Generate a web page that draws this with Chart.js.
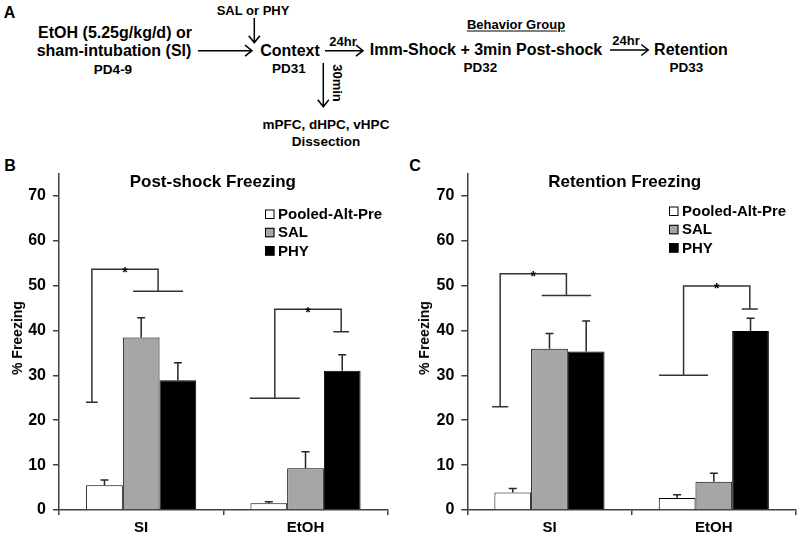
<!DOCTYPE html>
<html><head><meta charset="utf-8">
<script src="https://cdn.jsdelivr.net/npm/chart.js@4.4.1/dist/chart.umd.min.js"></script>
<style>
html,body{margin:0;padding:0;background:#fff;}
body{width:800px;height:539px;position:relative;overflow:hidden;font-family:"Liberation Sans",Arial,sans-serif;}
.t{position:absolute;transform:translate(-50%,-50%);white-space:nowrap;font-weight:bold;line-height:1;color:#000;}
.yt{transform:translate(-50%,-50%) rotate(-90deg);}
canvas{position:absolute;}
svg{position:absolute;left:0;top:0;}
</style></head><body>
<svg width="800" height="150" viewBox="0 0 800 150">
  <g stroke="#000" stroke-width="1.5" fill="none">
    <path d="M198 50.7 H252 M245 45.2 L252 50.7 L245 56.2"/>
    <path d="M254.3 18 V42.7 M248.8 35.7 L254.3 42.7 L259.8 35.7"/>
    <path d="M325 50.7 H363 M356 45.2 L363 50.7 L356 56.2"/>
    <path d="M323.3 63 V106.7 M317.8 99.7 L323.3 106.7 L328.8 99.7"/>
    <path d="M610 50 H648.3 M641.3 44.5 L648.3 50 L641.3 55.5"/>
  </g>
</svg>
<div class="t" style="left:9.5px;top:13.3px;font-size:16px">A</div>
<div class="t" style="left:253px;top:10px;font-size:13px">SAL or PHY</div>
<div class="t" style="left:115px;top:33.3px;font-size:16px">EtOH (5.25g/kg/d) or</div>
<div class="t" style="left:114px;top:51px;font-size:16px">sham-intubation (SI)</div>
<div class="t" style="left:113px;top:70px;font-size:13.5px">PD4-9</div>
<div class="t" style="left:290px;top:51px;font-size:16px">Context</div>
<div class="t" style="left:289px;top:69px;font-size:13.5px">PD31</div>
<div class="t" style="left:343px;top:41px;font-size:13px">24hr</div>
<div class="t" style="left:336.7px;top:83px;font-size:13px;transform:translate(-50%,-50%) rotate(90deg)">30min</div>
<div class="t" style="left:326px;top:125px;font-size:13.5px">mPFC, dHPC, vHPC</div>
<div class="t" style="left:326px;top:141.7px;font-size:13.5px">Dissection</div>
<div class="t" style="left:486px;top:50px;font-size:16px">Imm-Shock + 3min Post-shock</div>
<div class="t" style="left:516px;top:24px;font-size:13px;text-decoration:underline;text-underline-offset:2px">Behavior Group</div>
<div class="t" style="left:480.3px;top:68.3px;font-size:13.5px">PD32</div>
<div class="t" style="left:626px;top:39.5px;font-size:13px">24hr</div>
<div class="t" style="left:691px;top:50px;font-size:16px">Retention</div>
<div class="t" style="left:686.3px;top:68.3px;font-size:13.5px">PD33</div>

<div class="t" style="left:10px;top:166px;font-size:16px">B</div>
<div class="t" style="left:415px;top:166px;font-size:16px">C</div>

<canvas id="cB" width="400" height="389" style="left:0;top:150px"></canvas>
<canvas id="cC" width="400" height="389" style="left:400px;top:150px"></canvas>
<div class="t" style="left:212.8px;top:181px;font-size:17px">Post-shock Freezing</div>
<div class="t" style="left:624.7px;top:181px;font-size:17px">Retention Freezing</div>
<div class="t yt" style="left:17px;top:337.5px;font-size:14px">% Freezing</div>
<div class="t yt" style="left:423.5px;top:337.5px;font-size:14px">% Freezing</div>

<script>
// ---- data ----
const groups = ['SI', 'EtOH'];
const seriesNames = ['Pooled-Alt-Pre', 'SAL', 'PHY'];
const yTicks = [0, 10, 20, 30, 40, 50, 60, 70];

const postPooled = [5.5, 1.5];   const postPooledErr = [1.2, 0.35];
const postSAL    = [38.4, 9.3];  const postSALErr    = [4.4, 3.7];
const postPHY    = [28.9, 31.0]; const postPHYErr    = [3.9, 3.6];

const retPooled  = [3.9, 2.7];   const retPooledErr  = [0.9, 0.7];
const retSAL     = [35.9, 6.3];  const retSALErr     = [3.4, 1.9];
const retPHY     = [35.3, 39.9]; const retPHYErr     = [6.8, 2.8];

// significance brackets, in group units (SI = 0, EtOH = 1):
// [leftX, leftBottom, leftFootHalf, topY, rightX, rightBottom, rightFootHalf]
const postBrackets = [[-0.30, 24.0, 0.036, 53.6, 0.103, 48.7, 0.152],
                      [0.813, 24.9, 0.152, 44.7, 1.217, 39.7, 0.048]];
const retBrackets  = [[-0.30, 23.0, 0.049, 52.6, 0.103, 47.8, 0.150],
                      [0.816, 30.0, 0.149, 49.9, 1.219, 44.8, 0.049]];

// ---- chart ----
Chart.defaults.font.family = '"Liberation Sans", Arial, sans-serif';
Chart.defaults.font.weight = 'bold';
Chart.defaults.color = '#000';
const fills = ['#ffffff', '#a6a6a6', '#000000'];
const axisColor = '#404040';

// pixel for a fractional group position, through the category scale
function groupPixel(xs, u) {
  const p0 = xs.getPixelForValue(0), p1 = xs.getPixelForValue(1);
  return p0 + u * (p1 - p0);
}

const errorBars = {
  id: 'errorBars',
  afterDatasetsDraw(chart) {
    const ctx = chart.ctx, y = chart.scales.y;
    chart.data.datasets.forEach((ds, i) => {
      if (!ds.err) return;
      const meta = chart.getDatasetMeta(i);
      meta.data.forEach((el, j) => {
        const top = y.getPixelForValue(ds.data[j] + ds.err[j]);
        ctx.save();
        ctx.strokeStyle = '#262626'; ctx.lineWidth = 1.5;
        ctx.beginPath();
        ctx.moveTo(el.x, el.y); ctx.lineTo(el.x, top);
        ctx.moveTo(el.x - 4, top); ctx.lineTo(el.x + 4, top);
        ctx.stroke(); ctx.restore();
      });
    });
  }
};

const brackets = {
  id: 'brackets',
  afterDatasetsDraw(chart, args, opts) {
    const ctx = chart.ctx, y = chart.scales.y, xs = chart.scales.x;
    ctx.save();
    ctx.strokeStyle = '#333'; ctx.lineWidth = 1.5; ctx.lineCap = 'butt';
    opts.list.forEach(b => {
      const [lx, lb, lh, ty, rx, rb, rh] = b;
      const X = u => groupPixel(xs, u), Y = v => y.getPixelForValue(v);
      ctx.beginPath();
      ctx.moveTo(X(lx - lh), Y(lb)); ctx.lineTo(X(lx + lh), Y(lb));
      ctx.moveTo(X(lx), Y(lb)); ctx.lineTo(X(lx), Y(ty)); ctx.lineTo(X(rx), Y(ty)); ctx.lineTo(X(rx), Y(rb));
      ctx.moveTo(X(rx - rh), Y(rb)); ctx.lineTo(X(rx + rh), Y(rb));
      ctx.stroke();
      ctx.fillStyle = '#000'; ctx.font = 'bold 14px "Liberation Sans", Arial';
      ctx.textAlign = 'center'; ctx.textBaseline = 'alphabetic';
      ctx.fillText('*', X((lx + rx) / 2), Y(ty) + 7.5);
    });
    ctx.restore();
  }
};

const boxLegend = {
  id: 'boxLegend',
  afterDraw(chart, args, opts) {
    const ctx = chart.ctx, a = chart.chartArea;
    let yy = a.top + opts.top;
    const x = a.left + opts.left;
    ctx.save();
    chart.data.datasets.forEach(ds => {
      ctx.fillStyle = ds.backgroundColor;
      ctx.fillRect(x, yy - 4.5, 9.5, 9.5);
      ctx.strokeStyle = '#000'; ctx.lineWidth = 1;
      ctx.strokeRect(x + 0.5, yy - 4, 8.5, 8.5);
      ctx.fillStyle = '#000';
      ctx.font = 'bold 15px "Liberation Sans", Arial';
      ctx.textBaseline = 'middle'; ctx.textAlign = 'left';
      ctx.fillText(ds.label, x + 13, yy + 1);
      yy += opts.spacing;
    });
    ctx.restore();
  }
};

function makeChart(id, vals, errs, brs, padLeft, padRight, yWidth, legTop, legLeft) {
  const datasets = seriesNames.map((n, i) => ({
    label: n, data: vals[i], err: errs[i],
    backgroundColor: fills[i], borderColor: '#000', borderWidth: 1,
    categoryPercentage: 0.67, barPercentage: 1
  }));
  return new Chart(document.getElementById(id), {
    type: 'bar',
    data: { labels: groups, datasets },
    options: {
      responsive: false, animation: false,
      layout: { padding: { left: padLeft, right: padRight, top: 23.3, bottom: 0 } },
      plugins: {
        legend: { display: false }, tooltip: { enabled: false }, title: { display: false },
        brackets: { list: brs }, boxLegend: { top: legTop, left: legLeft, spacing: 18.3 }
      },
      scales: {
        x: {
          grid: { display: true, drawOnChartArea: false, drawTicks: true, tickLength: 5, offset: true, color: axisColor, lineWidth: 1.5 },
          border: { display: true, color: axisColor, width: 1.5 },
          ticks: { font: { size: 15, weight: 'bold' }, padding: 4, color: '#000' },
          afterFit: s => { s.height = 29; }
        },
        y: {
          min: 0, max: 75,
          grid: { display: true, drawOnChartArea: false, drawTicks: true, tickLength: 6, color: axisColor, lineWidth: 1.5 },
          border: { display: true, color: axisColor, width: 1.5 },
          ticks: { font: { size: 16, weight: 'bold' }, padding: 7, color: '#000' },
          afterBuildTicks: s => { s.ticks = yTicks.map(v => ({ value: v })); },
          afterFit: s => { s.width = yWidth; },
          title: { display: false }
        }
      }
    },
    plugins: [errorBars, brackets, boxLegend]
  });
}

makeChart('cB', [postPooled, postSAL, postPHY], [postPooledErr, postSALErr, postPHYErr], postBrackets, 0, 12.3, 59, 40.7, 206);
makeChart('cC', [retPooled, retSAL, retPHY], [retPooledErr, retSALErr, retPHYErr], retBrackets, 6.5, 4, 60.8, 37.7, 201.7);
</script>
</body></html>
